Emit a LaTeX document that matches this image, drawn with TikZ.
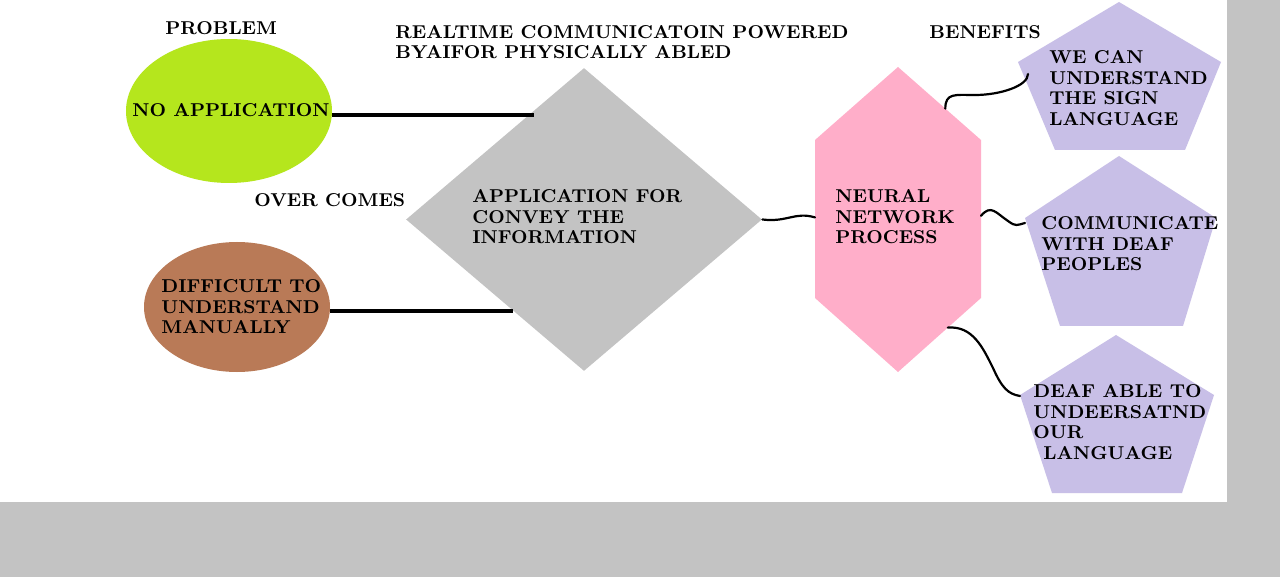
\documentclass[tikz,border=0pt]{standalone}
\usepackage{tikz}
\usetikzlibrary{shapes.geometric,calc}
\definecolor{probgreen}{HTML}{B5E61D}
\definecolor{probbrown}{HTML}{B97A57}
\definecolor{convgrey}{HTML}{C3C3C3}
\definecolor{nnpink}{HTML}{FFAEC9}
\definecolor{benlilac}{HTML}{C8BFE7}

\begin{document}
\begin{tikzpicture}[
    x=0.5pt, y=-0.5pt,
    lbl/.style={font=\fontsize{9.3}{10.3}\selectfont\bfseries, text=black, inner sep=0pt, align=left, anchor=west},
    blob/.style={ellipse, inner sep=0pt},
    link/.style={line width=2pt},
    wave/.style={line width=1.1pt, line cap=round},
    benefit/.style={fill=benlilac}
]
% page
\useasboundingbox (0,0) rectangle (1280,577);
\fill[convgrey] (0,0) rectangle (1280,577);
\fill[white] (0,0) rectangle (1227,502);

% problems
\node[blob, fill=probgreen, minimum width=103pt, minimum height=72pt] (noapp) at (229,111) {};
\node[blob, fill=probbrown, minimum width=93pt, minimum height=65pt] (diff) at (237,307) {};

% solution
\node[diamond, fill=convgrey, inner sep=0pt, minimum width=178pt, minimum height=151.5pt] (conv) at (584,219.5) {};

% neural network hexagon
\coordinate (hexT) at (898,67);
\coordinate (hexUR) at (981,140);
\coordinate (hexLR) at (981,298);
\coordinate (hexB) at (898,372);
\coordinate (hexLL) at (815,298);
\coordinate (hexUL) at (815,140);
\fill[nnpink] (hexT) -- (hexUR) -- (hexLR) -- (hexB) -- (hexLL) -- (hexUL) -- cycle;

% benefits
\fill[benefit] (1119,2) -- (1221,62) -- (1185,150) -- (1055,150) -- (1018,62) -- cycle;
\fill[benefit] (1119,156) -- (1216,218) -- (1183,326) -- (1060,326) -- (1025,218) -- cycle;
\fill[benefit] (1116,335) -- (1214,395) -- (1182,493) -- (1052,493) -- (1020,395) -- cycle;
\coordinate (ben1) at (1028,74);
\coordinate (ben2) at (1025,223);
\coordinate (ben3) at (1020,396);

% connectors
\coordinate (convNW) at ($(conv.north)!0.31!(conv.west)$);
\coordinate (convSW) at ($(conv.west)!0.6!(conv.south)$);
\draw[link] (noapp.east |- convNW) -- ($(convNW)+(5,0)$);
\draw[link] (diff.east |- convSW) -- (convSW);
\draw[wave] (conv.east) .. controls +(25,3) and +(-20,-6) .. ($(hexUL)!0.49!(hexLL)$);
\draw[wave] ($(hexT)!0.57!(hexUR)$) .. controls +(0,-16) and +(-20,0) .. (975,95)
    .. controls +(25,0) and +(0,12) .. (ben1);
\draw[wave] ($(hexUR)!0.48!(hexLR)$) .. controls +(10,-12) and +(-12,-8) .. (1008,221)
    .. controls +(8,6) and +(-8,2) .. (ben2);
\draw[wave] ($(hexLR)!0.4!(hexB)$) .. controls +(25,-2) and +(-10,-20) .. (993,368)
    .. controls +(9,20) and +(-12,-2) .. (ben3);

% texts
\node[lbl] (problem) at (165,28) {PROBLEM};
\node[lbl] (title) at (395,42) {REALTIME COMMUNICATOIN POWERED\\BYAIFOR PHYSICALLY ABLED};
\node[lbl] (benefits) at (929,32) {BENEFITS};
\node[lbl] (overcomes) at (254,200) {OVER COMES};
\node[lbl, anchor=center] (noapptxt) at (231,110) {NO APPLICATION};
\node[lbl] (difftxt) at (161,307) {DIFFICULT TO\\UNDERSTAND\\MANUALLY};
\node[lbl] (convtxt) at (472,217) {APPLICATION FOR\\CONVEY THE\\INFORMATION};
\node[lbl] (nntxt) at (835,217) {NEURAL\\NETWORK\\PROCESS};
\node[lbl] (ben1txt) at (1049,88) {WE CAN\\UNDERSTAND\\THE SIGN\\LANGUAGE};
\node[lbl] (ben2txt) at (1041,244) {COMMUNICATE\\WITH DEAF\\PEOPLES};
\node[lbl] (ben3txt) at (1033,422) {DEAF ABLE TO\\UNDEERSATND\\OUR\\\hspace*{5pt}LANGUAGE};
\end{tikzpicture}
\end{document}
